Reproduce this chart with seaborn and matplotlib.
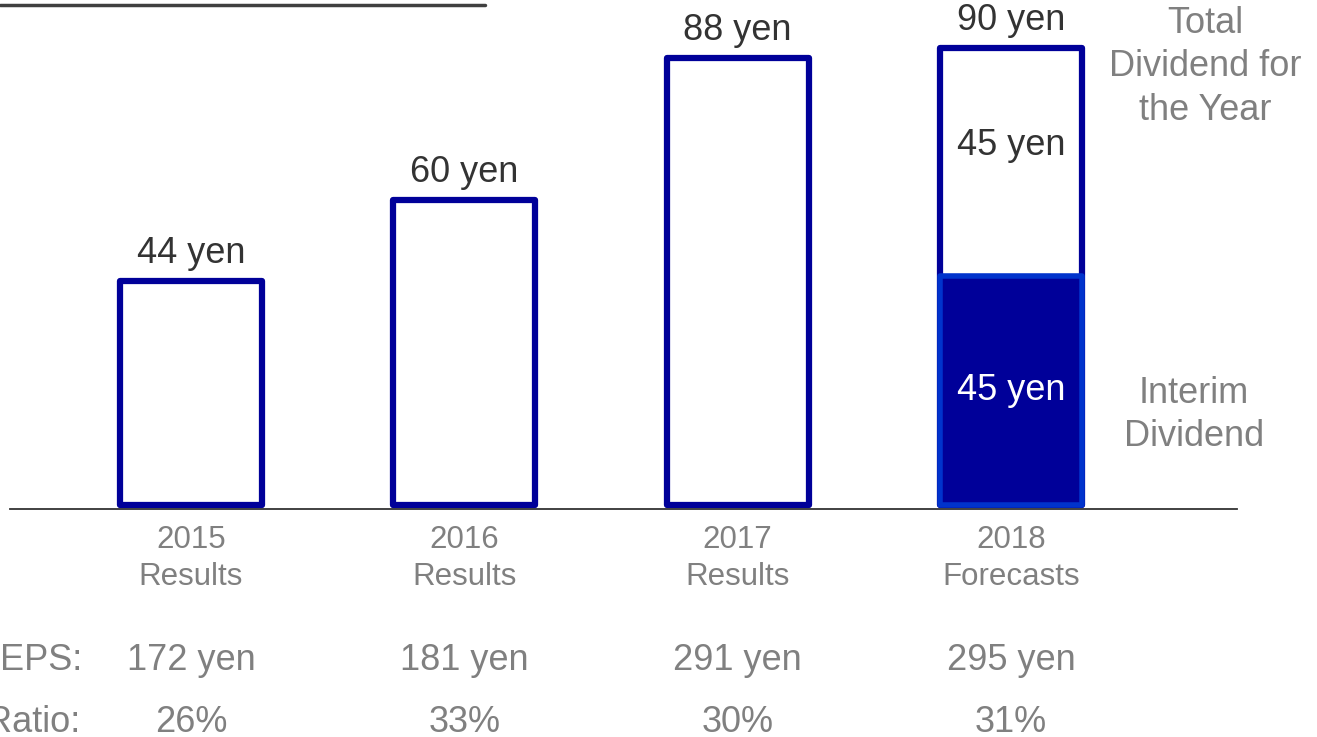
import matplotlib
matplotlib.use("Agg")
import matplotlib.pyplot as plt
import matplotlib.transforms as mtransforms
from matplotlib.lines import Line2D
import seaborn as sns
import pandas as pd

# Dividend data (yen) by fiscal year
years = ["2015\nResults", "2016\nResults", "2017\nResults", "2018\nForecasts"]
total_dividend = [44, 60, 88, 90]
interim_year = ["2018\nForecasts"]
interim_dividend = [45]
eps = [172, 181, 291, 295]
payout_ratio = [26, 33, 30, 31]

sns.set_theme(style="white")
plt.rcParams["font.family"] = ["Liberation Sans", "DejaVu Sans"]

NAVY = "#000099"
BRIGHT = "#0033CC"
DARK = "#333333"
GRAY = "#808080"

W, H = 1317, 737
fig = plt.figure(figsize=(W / 100, H / 100), dpi=100)
ax = fig.add_axes([10 / W, (H - 509) / H, 1227 / W, 509 / H])

totals = pd.DataFrame({"year": years, "dividend": total_dividend})
interim = pd.DataFrame({"year": interim_year, "dividend": interim_dividend})

sns.barplot(data=totals, x="year", y="dividend", order=years, width=0.52,
            color="white", edgecolor=NAVY, linewidth=4.5, saturation=1, ax=ax)
sns.barplot(data=interim, x="year", y="dividend", order=years, width=0.52,
            color=NAVY, edgecolor=BRIGHT, linewidth=4.0, saturation=1, ax=ax)
for p in ax.patches:
    p.set_joinstyle("round")

ax.set_xlim(-0.662, 3.827)
ax.set_ylim(-4 / 5.08, 505 / 5.08)
ax.set_xlabel("")
ax.set_ylabel("")
ax.set_yticks([])
ax.tick_params(axis="x", length=0, pad=11.5, labelsize=22.5, labelcolor=GRAY)
for lbl in ax.get_xticklabels():
    lbl.set_linespacing(1.3)
for side in ("top", "left", "right"):
    ax.spines[side].set_visible(False)
ax.spines["bottom"].set_color(DARK)
ax.spines["bottom"].set_linewidth(1.3)

# Annual totals above each bar
for i, v in enumerate(total_dividend):
    ax.annotate(f"{v} yen", (i, v), xytext=(0, 20), textcoords="offset points",
                ha="center", va="center", fontsize=26, color=DARK)

# Interim and year-end split for the forecast year
xi = years.index(interim_year[0])
iv = interim_dividend[0]
ax.text(xi, iv / 2, f"{iv} yen", ha="center", va="center", fontsize=26, color="white")
rest = total_dividend[xi] - iv
ax.annotate(f"{rest} yen", (xi, iv + rest / 2), xytext=(0, 12), textcoords="offset points",
            ha="center", va="center", fontsize=26, color=DARK)

# Side notes
fig.text(1205 / W, 1 - 67 / H, "Total\nDividend for\nthe Year", ha="center", va="center",
         fontsize=26, color=GRAY, linespacing=1.33)
fig.text(1194 / W, 1 - 415 / H, "Interim\nDividend", ha="center", va="center",
         fontsize=26, color=GRAY, linespacing=1.33)

# EPS and payout ratio rows
blend = mtransforms.blended_transform_factory(ax.transData, fig.transFigure)
eps_y = 1 - 660 / H
ratio_y = 1 - 722 / H
fig.text(82 / W, eps_y, "EPS:", ha="right", va="center", fontsize=26, color=GRAY)
fig.text(80 / W, ratio_y, "Ratio:", ha="right", va="center", fontsize=26, color=GRAY)
for i, (e, r) in enumerate(zip(eps, payout_ratio)):
    ax.text(i, eps_y, f"{e} yen", transform=blend, ha="center", va="center",
            fontsize=26, color=GRAY)
    ax.text(i, ratio_y, f"{r}%", transform=blend, ha="center", va="center",
            fontsize=26, color=GRAY)

# Heading underline
fig.add_artist(Line2D([0, 485 / W], [1 - 5 / H, 1 - 5 / H], transform=fig.transFigure,
                      color="#404040", linewidth=2.5))

fig.savefig("out.png", dpi=100)
